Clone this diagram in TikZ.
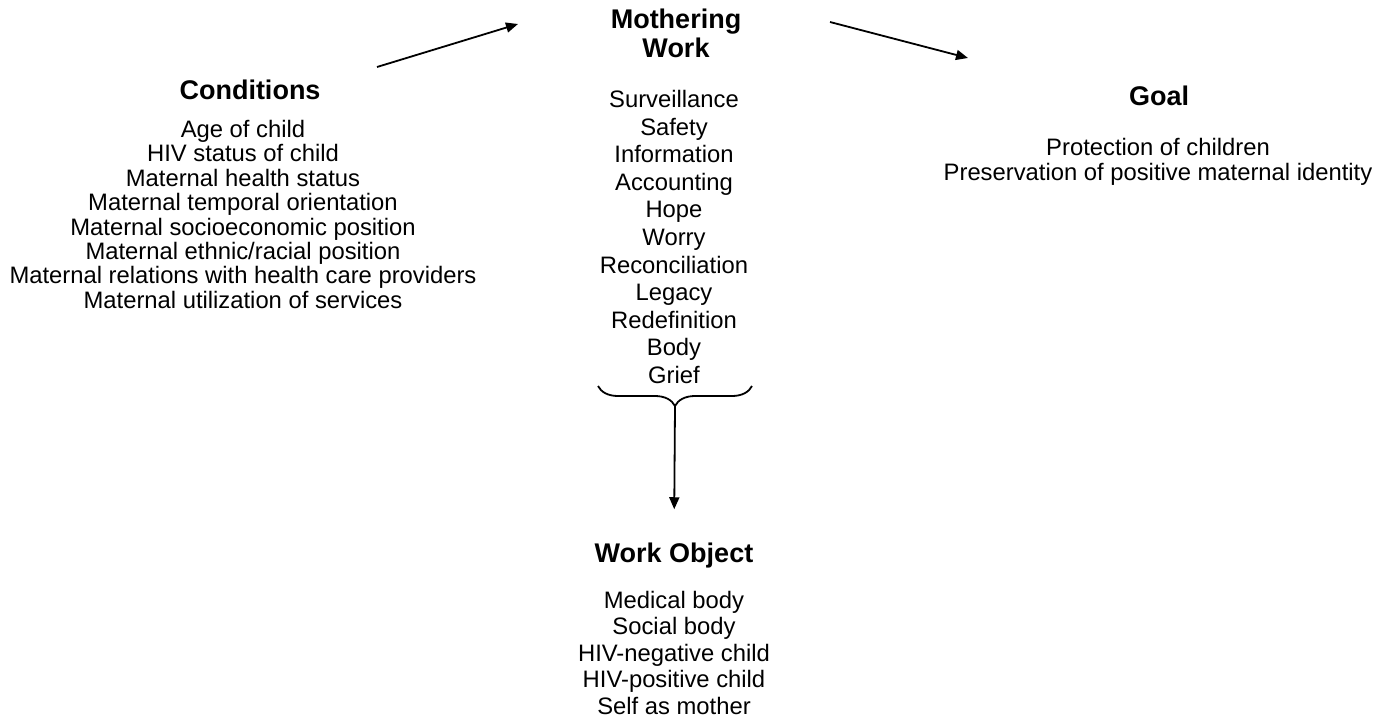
\documentclass[tikz,border=0pt]{standalone}
\usepackage{fontspec}
\setmainfont{Liberation Sans}
\usetikzlibrary{arrows.meta,decorations.pathreplacing}
\tikzset{
  head/.style={font=\fontsize{27}{29}\selectfont\bfseries,align=center,inner sep=0pt},
  items/.style={font=\fontsize{23.8}{#1}\selectfont,align=center,inner sep=0pt},
  items/.default=26,
  flow/.style={-{Triangle[length=12pt,width=10pt]},line width=1.8pt},
}

\begin{document}
\begin{tikzpicture}[x=1pt,y=-1pt]
    \useasboundingbox (0,0) rectangle (1382,721);
    % conditions
    \node[head,anchor=base] (condhead) at (250,99) {Conditions};
    \node[items=24.4,anchor=north] (condlist) at (243,120) {Age of child\\HIV status of child\\Maternal health status\\Maternal temporal orientation\\Maternal socioeconomic position\\Maternal ethnic/racial position\\Maternal relations with health care providers\\Maternal utilization of services};
    % mothering work
    \node[head,anchor=north] (workhead) at (676,9) {Mothering\\Work};
    \node[items=27.6,anchor=north] (worklist) at (674,90) {Surveillance\\Safety\\Information\\Accounting\\Hope\\Worry\\Reconciliation\\Legacy\\Redefinition\\Body\\Grief};
    % goal
    \node[head,anchor=base] (goalhead) at (1159,105) {Goal};
    \node[items=25,anchor=north] (goallist) at (1158,138) {Protection of children\\Preservation of positive maternal identity};
    % work object
    \node[head,anchor=base] (objhead) at (674,562) {Work Object};
    \node[items=26.5,anchor=north] (objlist) at (674,591) {Medical body\\Social body\\HIV-negative child\\HIV-positive child\\Self as mother};
    % arrows
    \coordinate (condout) at (377,67);
    \coordinate (workin) at (518,24);
    \coordinate (workout) at (830,22);
    \coordinate (goalin) at (968,58);
    \draw[flow] (condout) -- (workin);
    \draw[flow] (workout) -- (goalin);
    \draw[line width=1.8pt,decorate,decoration={brace,amplitude=20pt}] (752,386) -- (598,386);
    \coordinate (bracetip) at (675,406);
    \draw[flow,shorten >=33pt] (bracetip) -- (objhead.north);
\end{tikzpicture}
\end{document}
